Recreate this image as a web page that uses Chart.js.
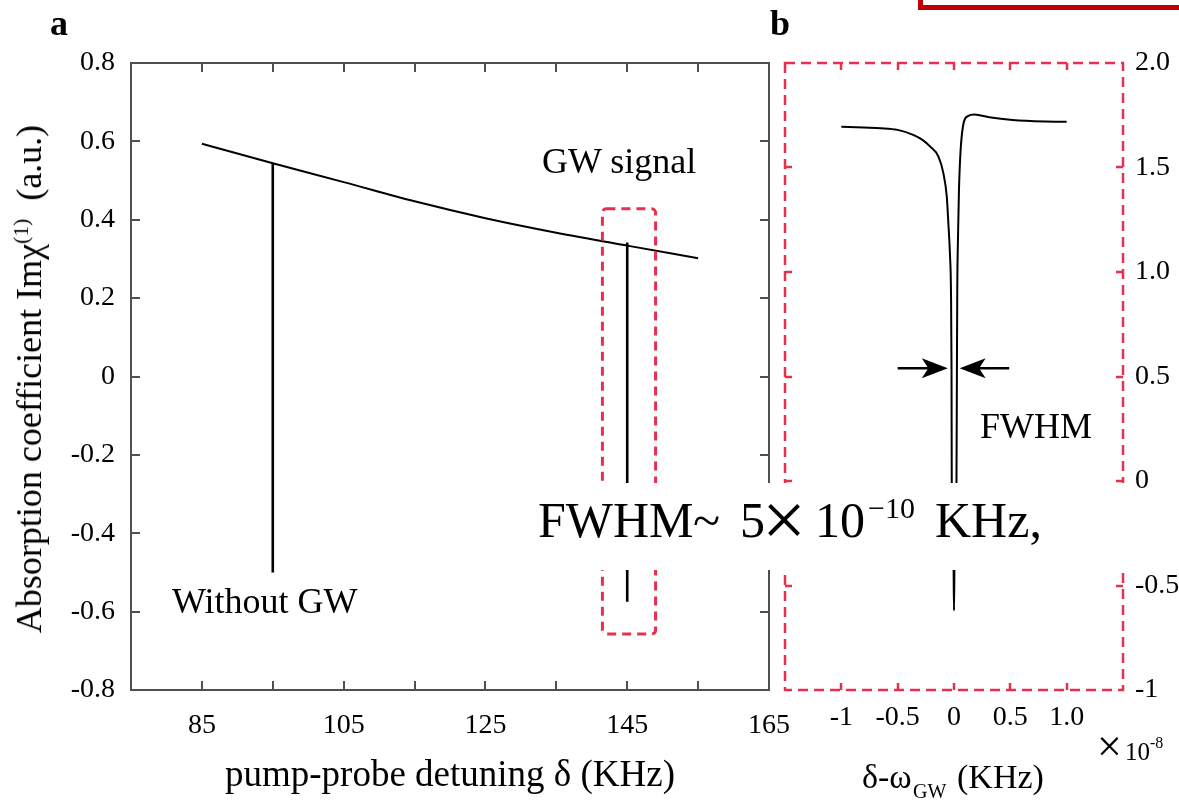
<!DOCTYPE html>
<html><head><meta charset="utf-8">
<script src="https://cdn.jsdelivr.net/npm/chart.js@4.4.1/dist/chart.umd.min.js"></script>
<style>
html,body{margin:0;padding:0;background:#fff;width:1179px;height:802px;overflow:hidden;position:relative;font-family:'Liberation Serif','Times New Roman',serif;color:#000}
canvas{position:absolute;top:0}
#ca{left:0}
#cb{left:778px}
.t{position:absolute;white-space:nowrap;line-height:1;font-family:'Liberation Serif','Times New Roman',serif;color:#000}
#redframe{position:absolute;left:918px;top:-20px;width:300px;height:30px;box-sizing:border-box;border:5px solid #c00000}
#cover{position:absolute;left:525px;top:483px;width:605px;height:87px;background:#fff}
#ytitle{position:absolute;left:29px;top:379px;transform:translate(-50%,-50%) rotate(-90deg);font-size:36px;white-space:nowrap;line-height:1}
</style></head><body>
<canvas id="ca" width="820" height="802"></canvas>
<canvas id="cb" width="401" height="802"></canvas>
<div id="redframe"></div>

<div class="t" style="left:50px;top:5px;font-size:36px;font-weight:bold">a</div>
<div class="t" style="left:770px;top:5px;font-size:36px;font-weight:bold">b</div>
<div id="ytitle">Absorption coefficient Imχ<sup style="font-size:60%">(1)</sup>&nbsp; (a.u.)</div>
<div class="t" style="left:542px;top:143px;font-size:36px">GW signal</div>
<div class="t" style="left:172px;top:583px;font-size:36px">Without GW</div>
<div class="t" style="left:980px;top:408px;font-size:36px">FWHM</div>

<div class="t" style="left:1097px;top:725px;font-size:44px">×</div>
<div class="t" style="left:1125px;top:739px;font-size:25px">10</div>
<div class="t" style="left:1150px;top:735px;font-size:16px">-8</div>

<div class="t" style="left:862px;top:760px;font-size:34px">δ-ω</div>
<div class="t" style="left:913px;top:781px;font-size:20px">GW</div>
<div class="t" style="left:957px;top:760px;font-size:34px">(KHz)</div>

<div id="cover"></div>
<div class="t" style="left:538px;top:495px;font-size:50px">FWHM</div>
<div class="t" style="left:693px;top:495px;font-size:50px">~</div>
<div class="t" style="left:740px;top:495px;font-size:50px">5</div>
<div class="t" style="left:762px;top:481px;font-size:78px">×</div>
<div class="t" style="left:815px;top:495px;font-size:50px">10</div>
<div class="t" style="left:868px;top:493px;font-size:30px">−10</div>
<div class="t" style="left:935px;top:495px;font-size:50px">KHz,</div>

<script>
const FONT = "'Liberation Serif', 'Times New Roman', serif";
Chart.defaults.font.family = FONT;
Chart.defaults.color = '#000';

// ---------- Panel a data ----------
const detuning = [85, 95, 105, 115, 125, 135, 145, 155];
const absorption = [0.594, 0.544, 0.496, 0.447, 0.404, 0.367, 0.334, 0.302];
const xTicksA = [85, 95, 105, 115, 125, 135, 145, 155, 165];
const xLabelsA = [85, 105, 125, 145, 165];
const yTicksA = [0.8, 0.6, 0.4, 0.2, 0, -0.2, -0.4, -0.6, -0.8];
const markerX = [95, 145];
const markerTop = [0.544, 0.342];
const markerBottom = [-0.50, -0.575];
const gwBoxX = [141.5, 149];
const gwBoxY = [0.428, -0.657];

// ---------- Panel b data (x in units of 1e-8 KHz) ----------
const detuneB = [-1.0, -0.8, -0.649, -0.5, -0.357, -0.28, -0.211, -0.138, -0.094, -0.064, -0.050, -0.035, -0.027, -0.022, -0.020, -0.004, 0, 0.004, 0.022, 0.026, 0.029, 0.035, 0.044, 0.057, 0.079, 0.123, 0.182, 0.314, 0.52, 0.813, 1.0];
const absorptionB = [1.695, 1.691, 1.688, 1.680, 1.655, 1.632, 1.600, 1.552, 1.472, 1.36, 1.233, 1.073, 0.914, 0.54, 0.0, -0.40, -0.62, -0.40, 0.0, 0.54, 0.914, 1.153, 1.392, 1.568, 1.695, 1.746, 1.754, 1.740, 1.727, 1.720, 1.719];
const xTicksB = [-1, -0.5, 0, 0.5, 1];
const xLabelsB = ['-1', '-0.5', '0', '0.5', '1.0'];
const yTicksB = [2, 1.5, 1, 0.5, 0, -0.5, -1];
const yLabelsB = ['2.0', '1.5', '1.0', '0.5', '0', '-0.5', '-1'];
const fwhmArrowY = 0.54;
const fwhmArrowLeft = [-0.50, -0.055];
const fwhmArrowRight = [0.49, 0.05];

const RED = '#e8304e';

const frameA = {
  id: 'frameA',
  afterDatasetsDraw(chart) {
    const {ctx, chartArea: ca, scales: {x, y}} = chart;
    ctx.save();
    ctx.strokeStyle = '#505050';
    ctx.lineWidth = 2;
    ctx.setLineDash([]);
    ctx.strokeRect(ca.left, ca.top, ca.right - ca.left, ca.bottom - ca.top);
    const L = 9;
    ctx.beginPath();
    x.ticks.forEach(t => {
      if (t.value > x.min && t.value < x.max) {
        const px = Math.round(x.getPixelForValue(t.value));
        ctx.moveTo(px, ca.bottom); ctx.lineTo(px, ca.bottom - L);
        ctx.moveTo(px, ca.top); ctx.lineTo(px, ca.top + L);
      }
    });
    y.ticks.forEach(t => {
      if (t.value > y.min && t.value < y.max) {
        const py = Math.round(y.getPixelForValue(t.value));
        ctx.moveTo(ca.left, py); ctx.lineTo(ca.left + L, py);
        ctx.moveTo(ca.right, py); ctx.lineTo(ca.right - L, py);
      }
    });
    ctx.stroke();
    // red dashed box around GW signal
    const bx0 = x.getPixelForValue(gwBoxX[0]), bx1 = x.getPixelForValue(gwBoxX[1]);
    const by0 = y.getPixelForValue(gwBoxY[0]), by1 = y.getPixelForValue(gwBoxY[1]);
    ctx.strokeStyle = RED;
    ctx.lineWidth = 3;
    ctx.setLineDash([9, 6]);
    ctx.beginPath();
    if (ctx.roundRect) ctx.roundRect(bx0, by0, bx1 - bx0, by1 - by0, 4);
    else ctx.rect(bx0, by0, bx1 - bx0, by1 - by0);
    ctx.stroke();
    ctx.restore();
  }
};

function arrow(ctx, x0, x1, y) {
  const dir = Math.sign(x1 - x0);
  const len = 26, hw = 10;
  ctx.beginPath();
  ctx.moveTo(x0, y); ctx.lineTo(x1 - dir * len * 0.7, y);
  ctx.stroke();
  ctx.beginPath();
  ctx.moveTo(x1, y);
  ctx.lineTo(x1 - dir * len, y - hw);
  ctx.lineTo(x1 - dir * len * 0.75, y);
  ctx.lineTo(x1 - dir * len, y + hw);
  ctx.closePath();
  ctx.fill();
}

const frameB = {
  id: 'frameB',
  afterDatasetsDraw(chart) {
    const {ctx, chartArea: ca, scales: {x, y}} = chart;
    ctx.save();
    ctx.strokeStyle = RED;
    ctx.lineWidth = 2.5;
    ctx.setLineDash([10, 6]);
    ctx.strokeRect(ca.left, ca.top, ca.right - ca.left, ca.bottom - ca.top);
    ctx.setLineDash([]);
    const L = 7;
    ctx.beginPath();
    x.ticks.forEach(t => {
      if (t.value > x.min && t.value < x.max) {
        const px = Math.round(x.getPixelForValue(t.value));
        ctx.moveTo(px, ca.bottom); ctx.lineTo(px, ca.bottom - L);
        ctx.moveTo(px, ca.top); ctx.lineTo(px, ca.top + L);
      }
    });
    y.ticks.forEach(t => {
      if (t.value > y.min && t.value < y.max) {
        const py = Math.round(y.getPixelForValue(t.value));
        ctx.moveTo(ca.left, py); ctx.lineTo(ca.left + L, py);
        ctx.moveTo(ca.right, py); ctx.lineTo(ca.right - L, py);
      }
    });
    ctx.stroke();
    // FWHM arrows
    ctx.strokeStyle = '#000';
    ctx.fillStyle = '#000';
    ctx.lineWidth = 2.5;
    const ay = y.getPixelForValue(fwhmArrowY);
    arrow(ctx, x.getPixelForValue(fwhmArrowLeft[0]), x.getPixelForValue(fwhmArrowLeft[1]), ay);
    arrow(ctx, x.getPixelForValue(fwhmArrowRight[0]), x.getPixelForValue(fwhmArrowRight[1]), ay);
    ctx.restore();
  }
};

new Chart(document.getElementById('ca'), {
  type: 'line',
  data: {
    datasets: [
      {data: detuning.map((v, i) => ({x: v, y: absorption[i]})), borderColor: '#000', borderWidth: 2, pointRadius: 0, cubicInterpolationMode: 'monotone', fill: false},
      {data: [{x: markerX[0], y: markerTop[0]}, {x: markerX[0], y: markerBottom[0]}], borderColor: '#000', borderWidth: 2.6, pointRadius: 0},
      {data: [{x: markerX[1], y: markerTop[1]}, {x: markerX[1], y: markerBottom[1]}], borderColor: '#000', borderWidth: 2.6, pointRadius: 0}
    ]
  },
  options: {
    responsive: false, animation: false, devicePixelRatio: 1,
    layout: {padding: {left: 0, top: 63, right: 51, bottom: 0}},
    plugins: {legend: {display: false}, tooltip: {enabled: false}},
    scales: {
      x: {
        type: 'linear', min: 75, max: 165,
        afterBuildTicks: s => { s.ticks = xTicksA.map(v => ({value: v})); },
        afterFit: s => { s.height = 112; },
        grid: {display: false, drawTicks: false}, border: {display: false},
        ticks: {autoSkip: false, maxRotation: 0, padding: 19, font: {size: 28, family: FONT}, color: '#000',
          callback: v => xLabelsA.includes(v) ? String(v) : ''},
        title: {display: true, text: 'pump-probe detuning δ (KHz)', font: {size: 37, family: FONT}, color: '#000', padding: {top: 0, bottom: 4}}
      },
      y: {
        type: 'linear', min: -0.8, max: 0.8,
        afterBuildTicks: s => { s.ticks = yTicksA.map(v => ({value: v})); },
        afterFit: s => { s.width = 131; },
        grid: {display: false, drawTicks: false}, border: {display: false},
        ticks: {autoSkip: false, padding: 16, font: {size: 28, family: FONT}, color: '#000',
          callback: v => Math.abs(v) < 1e-9 ? '0' : v.toFixed(1)}
      }
    }
  },
  plugins: [frameA]
});

new Chart(document.getElementById('cb'), {
  type: 'line',
  data: {
    datasets: [
      {data: detuneB.map((v, i) => ({x: v, y: absorptionB[i]})), borderColor: '#000', borderWidth: 2, pointRadius: 0, cubicInterpolationMode: 'monotone', fill: false}
    ]
  },
  options: {
    responsive: false, animation: false, devicePixelRatio: 1,
    layout: {padding: {left: 7, top: 63, right: 0, bottom: 0}},
    plugins: {legend: {display: false}, tooltip: {enabled: false}},
    scales: {
      x: {
        type: 'linear', min: -1.5, max: 1.5,
        afterBuildTicks: s => { s.ticks = xTicksB.map(v => ({value: v})); },
        afterFit: s => { s.height = 112; },
        grid: {display: false, drawTicks: false}, border: {display: false},
        ticks: {autoSkip: false, maxRotation: 0, padding: 11, font: {size: 28, family: FONT}, color: '#000',
          callback: v => { const i = xTicksB.indexOf(v); return i >= 0 ? xLabelsB[i] : ''; }}
      },
      y: {
        type: 'linear', position: 'right', min: -1, max: 2,
        afterBuildTicks: s => { s.ticks = yTicksB.map(v => ({value: v})); },
        afterFit: s => { s.width = 56; },
        grid: {display: false, drawTicks: false}, border: {display: false},
        ticks: {autoSkip: false, padding: 12, font: {size: 28, family: FONT}, color: '#000',
          callback: v => { const i = yTicksB.indexOf(v); return i >= 0 ? yLabelsB[i] : ''; }}
      }
    }
  },
  plugins: [frameB]
});
</script>
</body></html>
